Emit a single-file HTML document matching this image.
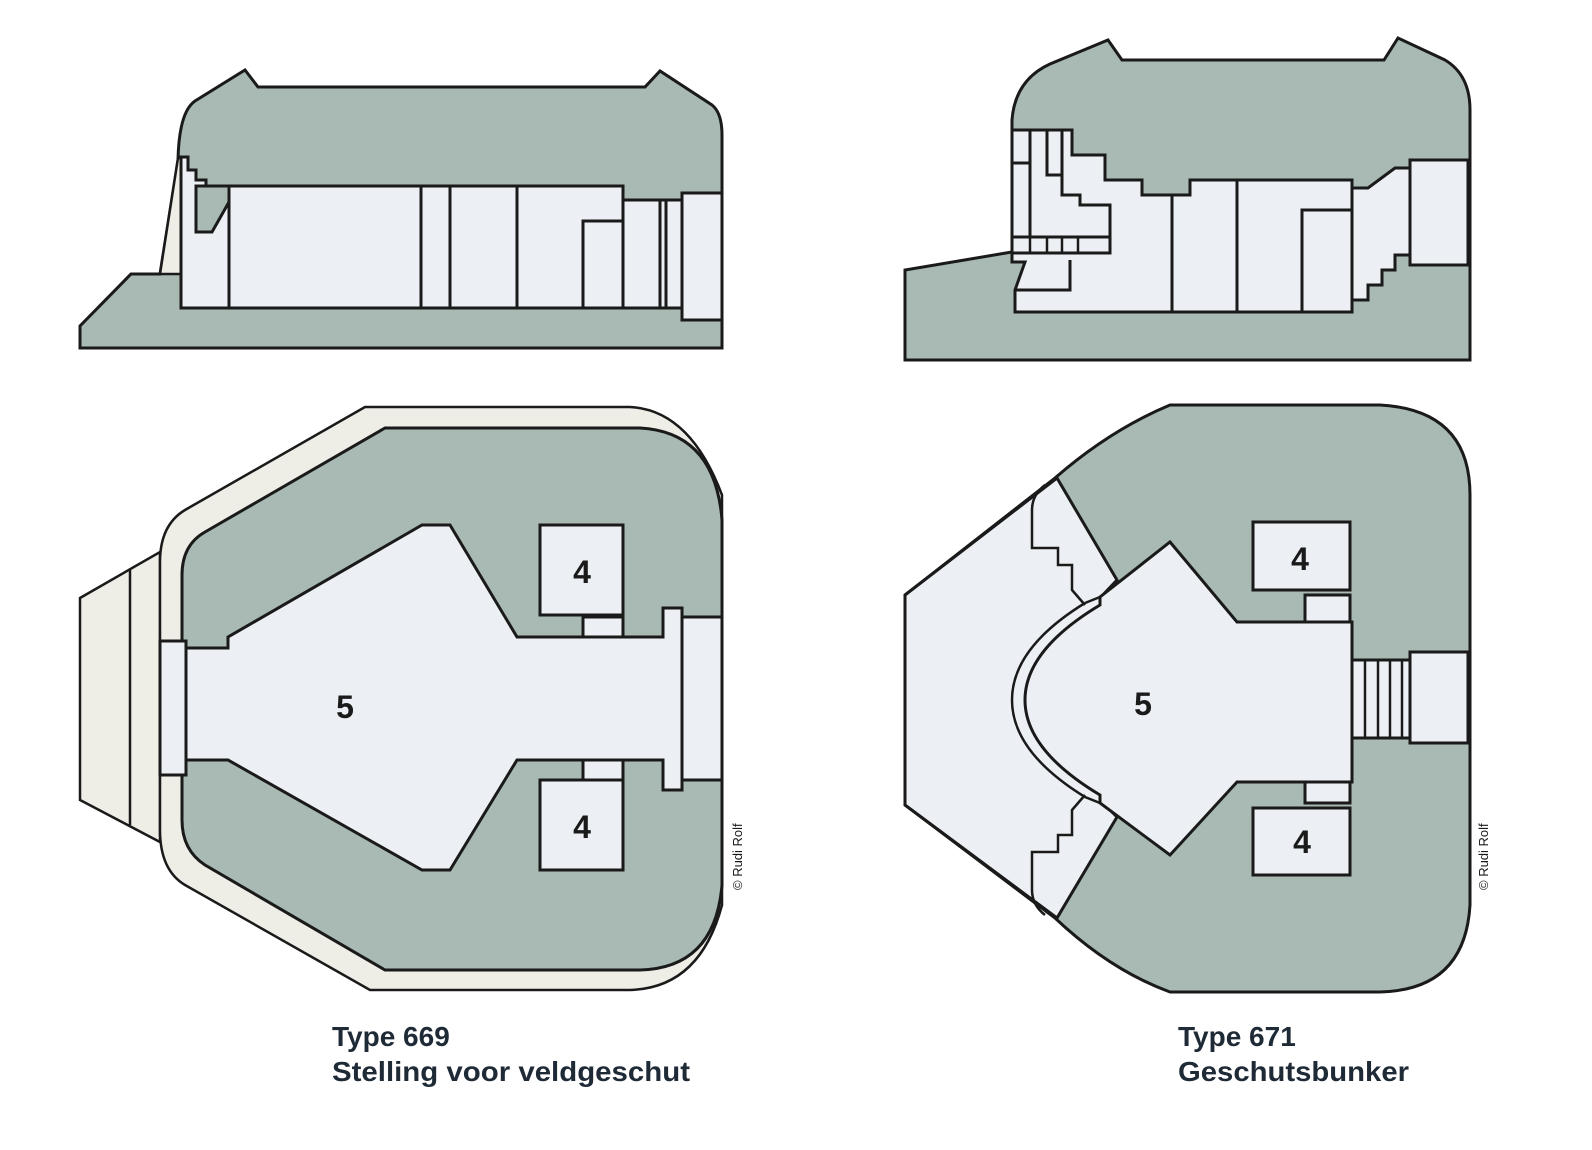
<!DOCTYPE html>
<html><head><meta charset="utf-8"><style>
html,body{margin:0;padding:0;background:#fff;}
svg{display:block;}
.g{fill:#a8bab3;stroke:#1a1a1a;stroke-width:3;stroke-linejoin:miter;}
.l{fill:#eceff3;stroke:#1a1a1a;stroke-width:3;}
.c{fill:#eeede6;stroke:#1a1a1a;stroke-width:2.5;}
.n{fill:none;stroke:#1a1a1a;stroke-width:3;}
.num{font-family:"Liberation Sans",sans-serif;font-weight:bold;font-size:32px;fill:#1a1a1a;text-anchor:middle;}
.cap{font-family:"Liberation Sans",sans-serif;font-weight:bold;font-size:28px;fill:#1f2a37;}
.cr{font-family:"Liberation Sans",sans-serif;font-size:13px;fill:#1a1a1a;}
</style></head><body>
<svg width="1592" height="1150" viewBox="0 0 1592 1150" xmlns="http://www.w3.org/2000/svg">
<!-- TYPE 669 SECTION -->
<path class="g" d="M80,348 L80,326 L131,274 L160,274 L178,160 Q179,112 195,101 L245,70 L258,87 L645,87 L660,71 L712,105 Q722,113 722,135 L722,348 Z"/>
<path class="c" d="M160,274 L178,158 L181,158 L181,274 Z"/>
<path class="l" d="M181,308 L181,157 L188,157 L188,170 L196,170 L196,180 L206,180 L206,186 L623,186 L623,200 L682,200 L682,308 Z"/>
<path class="g" d="M196,186 L196,232 L212,232 L229,202 L229,186 Z"/>
<path class="n" d="M229,186 L229,308 M421,186 L421,308 M450,186 L450,308 M517,186 L517,308 M583,308 L583,221 L623,221 M623,186 L623,308 M660,200 L660,308 M666,200 L666,308"/>
<rect class="l" x="682" y="193" width="40" height="127"/>
<!-- TYPE 669 PLAN -->
<path class="c" d="M80,598 L160,552 L160,842 L80,800 Z"/>
<line class="n" x1="130" y1="570" x2="130" y2="825" style="stroke-width:2.5"/>
<path class="c" d="M365,407 L630,407 Q690,410 722,495 L722,905 Q700,988 630,990 L370,990 L185,885 Q160,870 160,830 L160,562 Q160,525 185,510 Z"/>
<path class="g" d="M385,428 L640,428 Q715,432 722,520 L722,885 Q715,968 640,970 L385,970 L205,865 Q182,850 182,820 L182,575 Q182,545 205,532 Z"/>
<rect class="l" x="160" y="641" width="26" height="134"/>
<path class="l" d="M186,648 L228,648 L228,637 L422,525 L450,525 L517,637 L663,637 L663,608 L682,608 L682,617 L722,617 L722,780 L682,780 L682,790 L663,790 L663,760 L517,760 L450,870 L422,870 L228,760 L186,760 Z"/>
<line class="n" x1="682" y1="617" x2="682" y2="780"/>
<rect class="l" x="540" y="525" width="83" height="90"/>
<rect class="l" x="583" y="617" width="40" height="20"/>
<rect class="l" x="540" y="780" width="83" height="90"/>
<rect class="l" x="583" y="760" width="40" height="20"/>
<text class="num" x="582" y="583">4</text>
<text class="num" x="582" y="838">4</text>
<text class="num" x="345" y="718">5</text>
<text class="cr" transform="translate(742,890) rotate(-90)">© Rudi Rolf</text>
<!-- TYPE 671 SECTION -->
<path class="g" d="M905,360 L905,270 L1012,252 L1012,120 Q1015,80 1050,64 L1108,40 L1122,60 L1384,60 L1398,38 L1445,60 Q1470,75 1470,110 L1470,360 Z"/>
<path class="l" d="M1012,130 L1072,130 L1072,155 L1105,155 L1105,180 L1142,180 L1142,195 L1190,195 L1190,180 L1352,180 L1352,188 L1368,188 L1395,168 L1410,168 L1410,255 L1395,255 L1395,270 L1382,270 L1382,285 L1368,285 L1368,300 L1352,300 L1352,312 L1015,312 L1015,290 L1025,262 L1012,262 Z"/>
<path class="n" d="M1012,163 L1030,163 L1030,237 M1030,163 L1030,130 M1047,130 L1047,175 L1062,175 L1062,195 M1062,130 L1062,195 L1080,195 L1080,205 L1110,205 L1110,237 M1015,290 L1070,290 L1070,260 M1172,195 L1172,312 M1237,180 L1237,312 M1302,312 L1302,210 L1352,210 M1352,180 L1352,312"/>
<rect class="l" x="1012" y="237" width="98" height="16"/>
<path class="n" d="M1030,237 L1030,253 M1047,237 L1047,253 M1062,237 L1062,253 M1078,237 L1078,253" style="stroke-width:2.5"/>
<rect class="l" x="1410" y="160" width="58" height="105"/>
<!-- TYPE 671 PLAN -->
<path class="g" d="M905,595 L1055,478 Q1110,430 1170,405 L1380,405 Q1470,410 1470,495 L1470,905 Q1465,990 1380,992 L1170,992 Q1110,970 1055,918 L905,805 Z"/>
<path class="l" d="M905,595 L1057,478 L1117,580 L1100,598 L1100,800 L1117,817 L1057,918 L905,805 Z"/>
<path class="n" d="M1045,485 Q1032,495 1032,510 L1032,548 L1058,548 L1058,565 L1072,565 L1072,590 L1085,605 M1045,915 Q1032,905 1032,890 L1032,852 L1058,852 L1058,835 L1072,835 L1072,810 L1085,795" style="stroke-width:2.5"/>
<path class="l" d="M1100,597 L1170,542 L1237,622 L1352,622 L1352,782 L1237,782 L1170,855 L1100,803 L1100,795 Q1025,750 1025,700 Q1025,650 1100,605 Z"/>
<path class="n" d="M1085,603 Q1012,648 1012,700 Q1012,752 1085,797 L1100,803 M1085,603 L1100,597" style="stroke-width:2.5"/>
<rect class="l" x="1253" y="522" width="97" height="68"/>
<rect class="l" x="1305" y="595" width="45" height="27"/>
<rect class="l" x="1253" y="808" width="97" height="67"/>
<rect class="l" x="1305" y="782" width="45" height="21"/>
<rect class="l" x="1352" y="660" width="58" height="78"/>
<path class="n" d="M1365,660 L1365,738 M1378,660 L1378,738 M1390,660 L1390,738 M1402,660 L1402,738" style="stroke-width:2.5"/>
<rect class="l" x="1410" y="652" width="58" height="91"/>
<text class="num" x="1300" y="570">4</text>
<text class="num" x="1302" y="853">4</text>
<text class="num" x="1143" y="715">5</text>
<text class="cr" transform="translate(1488,890) rotate(-90)">© Rudi Rolf</text>
<!-- CAPTIONS -->
<text class="cap" x="332" y="1046">Type 669</text>
<text class="cap" x="332" y="1081" textLength="358" lengthAdjust="spacingAndGlyphs">Stelling voor veldgeschut</text>
<text class="cap" x="1178" y="1046">Type 671</text>
<text class="cap" x="1178" y="1081" textLength="231" lengthAdjust="spacingAndGlyphs">Geschutsbunker</text>
</svg>
</body></html>
